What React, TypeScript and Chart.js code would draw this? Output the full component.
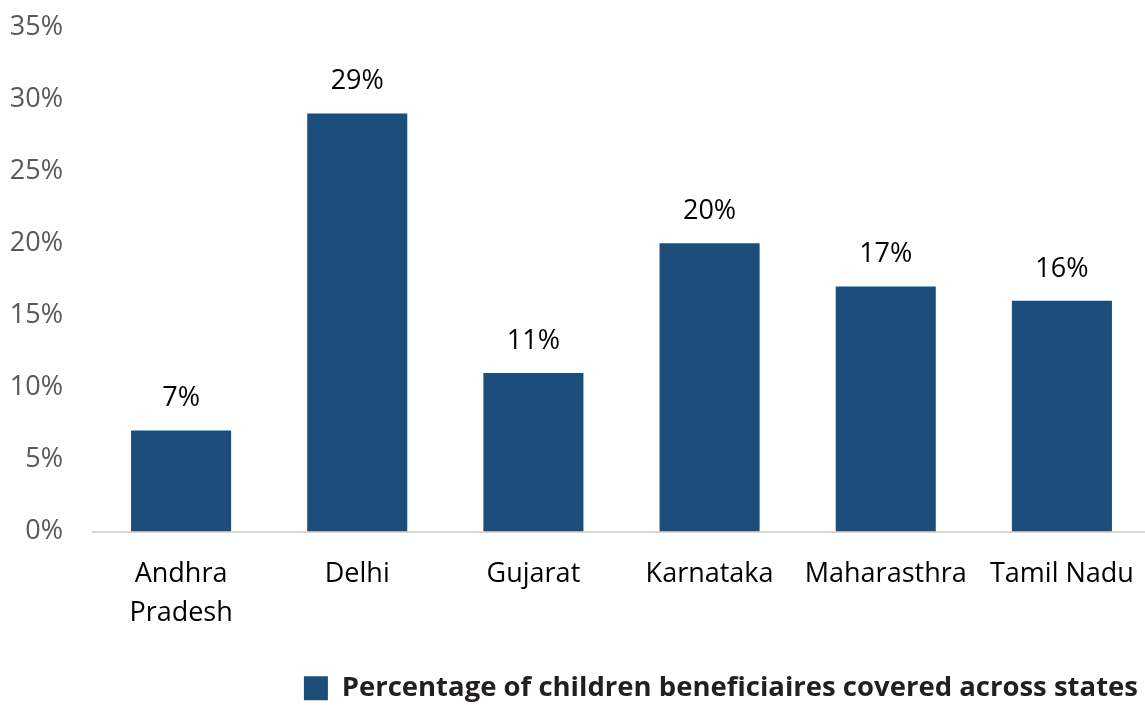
import React, { useEffect, useRef } from "react";
import { Chart, registerables } from "chart.js";

Chart.register(...registerables);

const categories: (string | string[])[] = [
  ["Andhra", "Pradesh"],
  "Delhi",
  "Gujarat",
  "Karnataka",
  "Maharasthra",
  "Tamil Nadu",
];
const values: number[] = [7, 29, 11, 20, 17, 16];
const seriesLabel = "Percentage of children beneficiaires covered across states";
const yMin = 0;
const yMax = 35;
const yStep = 5;

const BAR_COLOR = "#1C4D7B";
const FONT = "'Open Sans', 'DejaVu Sans', sans-serif";

const valueLabels = {
  id: "valueLabels",
  afterDatasetsDraw(chart: any) {
    const ctx = chart.ctx;
    const meta = chart.getDatasetMeta(0);
    ctx.save();
    ctx.font = `27px ${FONT}`;
    ctx.fillStyle = "#000000";
    ctx.textAlign = "center";
    ctx.textBaseline = "middle";
    meta.data.forEach((bar: any, i: number) => {
      const v = chart.data.datasets[0].data[i];
      ctx.fillText(`${v}%`, bar.x, bar.y - 32);
    });
    ctx.restore();
  },
};

export default function App() {
  const ref = useRef<HTMLCanvasElement | null>(null);

  useEffect(() => {
    document.body.style.margin = "0";
    const canvas = ref.current;
    if (!canvas) return;
    const chart = new Chart(canvas, {
      type: "bar",
      data: {
        labels: categories,
        datasets: [
          {
            label: seriesLabel,
            data: values,
            backgroundColor: BAR_COLOR,
            borderWidth: 0,
            categoryPercentage: 1,
            barPercentage: 0.568,
          },
        ],
      },
      options: {
        animation: false,
        responsive: false,
        devicePixelRatio: 1,
        layout: { padding: { top: 27, right: 0, left: 0, bottom: -7 } },
        plugins: {
          tooltip: { enabled: false },
          legend: {
            position: "bottom",
            align: "end",
            labels: {
              boxWidth: 24,
              boxHeight: 24,
              padding: 12,
              color: "#231F20",
              font: {
                family: FONT,
                size: 27.5,
                weight: "bold",
              },
            },
          },
        },
        scales: {
          x: {
            grid: { display: false, drawTicks: true, tickLength: 23, color: "rgba(0,0,0,0)" },
            border: { display: true, color: "#D9D9D9", width: 2 },
            ticks: {
              color: "#000000",
              padding: 0,
              font: { family: FONT, size: 27, lineHeight: 1.44 },
              maxRotation: 0,
              autoSkip: false,
            },
            afterFit: (scale: any) => {
              scale.height = 131;
            },
          },
          y: {
            min: yMin,
            max: yMax,
            grid: { display: false, drawTicks: true, tickLength: 30, color: "rgba(0,0,0,0)" },
            border: { display: false },
            ticks: {
              stepSize: yStep,
              color: "#595959",
              padding: 0,
              font: { family: FONT, size: 27 },
              callback: (v: any) => `${v}%`,
            },
            afterFit: (scale: any) => {
              scale.width = 93;
            },
          },
        },
      },
      plugins: [valueLabels],
    });
    return () => chart.destroy();
  }, []);

  return (
    <div
      style={{
        position: "absolute",
        left: 0,
        top: 0,
        width: 1145,
        height: 705,
        overflow: "hidden",
        background: "#fff",
      }}
    >
      <canvas ref={ref} width={1150} height={705} style={{ display: "block" }} />
    </div>
  );
}
